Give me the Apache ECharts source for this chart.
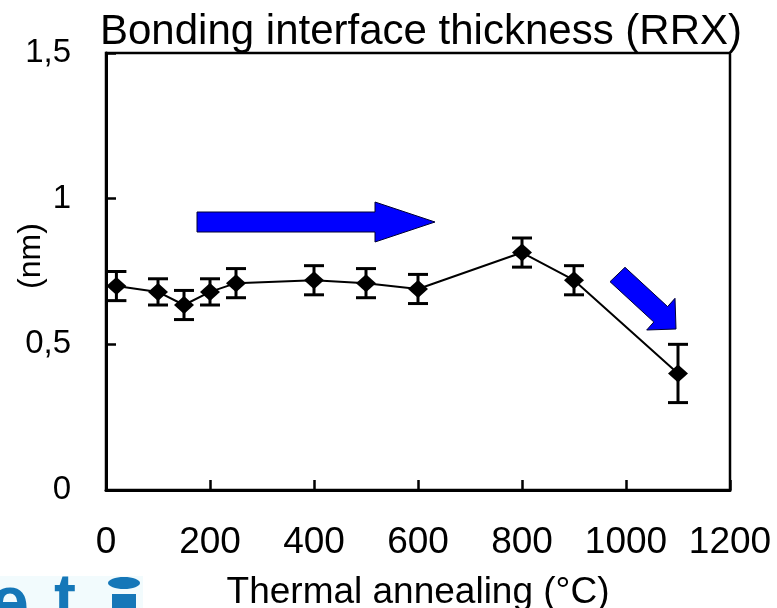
<!DOCTYPE html>
<html>
<head>
<meta charset="utf-8">
<script src="https://cdn.jsdelivr.net/npm/echarts@6/dist/echarts.min.js"></script>
<style>html,body{margin:0;padding:0;background:#fff}#c{width:777px;height:608px}</style>
</head>
<body>
<div id="c"></div>
<script>
const temps = [20, 100, 150, 200, 250, 400, 500, 600, 800, 900, 1100];
const thickness = [0.70, 0.68, 0.635, 0.68, 0.71, 0.72, 0.71, 0.69, 0.815, 0.72, 0.40];
const errors = [0.05, 0.045, 0.05, 0.045, 0.05, 0.05, 0.05, 0.05, 0.05, 0.05, 0.10];
const titleText = 'Bonding interface thickness (RRX)';
const xName = 'Thermal annealing (°C)';
const yName = '(nm)';

const chart = echarts.init(document.getElementById('c'));
const font = 'Liberation Sans, Arial, sans-serif';
const points = temps.map((t, i) => [t, thickness[i]]);
const errData = temps.map((t, i) => [t, thickness[i], errors[i]]);

chart.setOption({
  animation: false,
  backgroundColor: '#fff',
  title: {
    text: titleText, left: 100, top: 11, padding: 0,
    textStyle: { fontFamily: font, fontSize: 42, fontWeight: 'normal', color: '#000' }
  },
  grid: { left: 106, right: 47, top: 53, bottom: 118, outerBoundsMode: 'none', containLabel: false,
    show: true, borderColor: '#000', borderWidth: 2.5, backgroundColor: 'transparent' },
  xAxis: {
    type: 'value', min: 0, max: 1200, interval: 200,
    name: xName, nameLocation: 'middle', nameGap: 84,
    nameTextStyle: { fontFamily: font, fontSize: 37, color: '#000' },
    axisLine: { show: true, lineStyle: { color: '#000', width: 3 } },
    axisTick: { show: true, inside: true, length: 10, lineStyle: { color: '#000', width: 2.5 } },
    axisLabel: { margin: 34, fontFamily: font, fontSize: 37, color: '#000', formatter: v => String(v) },
    splitLine: { show: false }
  },
  yAxis: {
    type: 'value', min: 0, max: 1.5, interval: 0.5,
    axisLine: { show: true, lineStyle: { color: '#000', width: 3 } },
    axisTick: { show: true, inside: true, length: 10, lineStyle: { color: '#000', width: 2.5 } },
    axisLabel: { margin: 35, fontFamily: font, fontSize: 33, color: '#000',
      formatter: v => String(v).replace('.', ',') },
    splitLine: { show: false }
  },
  series: [
    {
      type: 'custom',
      data: errData,
      z: 2,
      renderItem: function (params, api) {
        const x = api.value(0), y = api.value(1), e = api.value(2);
        const top = api.coord([x, y + e]);
        const bot = api.coord([x, y - e]);
        const hw = 10;
        const st = { stroke: '#000', lineWidth: 3 };
        return {
          type: 'group', children: [
            { type: 'line', shape: { x1: top[0], y1: top[1], x2: bot[0], y2: bot[1] }, style: st },
            { type: 'line', shape: { x1: top[0] - hw, y1: top[1], x2: top[0] + hw, y2: top[1] }, style: st },
            { type: 'line', shape: { x1: bot[0] - hw, y1: bot[1], x2: bot[0] + hw, y2: bot[1] }, style: st }
          ]
        };
      }
    },
    {
      type: 'line',
      data: points,
      z: 3,
      symbol: 'diamond',
      symbolSize: [20, 18],
      itemStyle: { color: '#000' },
      lineStyle: { color: '#000', width: 2 }
    }
  ],
  graphic: [
    {
      type: 'text', x: 31, y: 256, rotation: Math.PI / 2,
      style: { text: yName, font: '32px ' + font, fill: '#000', align: 'center', verticalAlign: 'middle' }
    },
    {
      type: 'polygon',
      shape: { points: [[197, 212], [375, 212], [375, 202], [435, 222], [375, 242], [375, 232], [197, 232]] },
      style: { fill: '#0000ff', stroke: '#000033', lineWidth: 1 }
    },
    {
      type: 'polygon',
      shape: { points: [[610, 281.7], [625, 267.3], [667.6, 306.6], [675, 298.3], [676, 329], [646.7, 330], [653.8, 322]] },
      style: { fill: '#0000ff', stroke: '#000033', lineWidth: 1 }
    },
    { type: 'rect', shape: { x: 0, y: 576, width: 143, height: 32 }, style: { fill: '#f2fbfd' } },
    { type: 'text', x: -10, y: 606, style: { text: 'e', font: 'bold 70px ' + font, fill: '#1577b8', verticalAlign: 'middle' } },
    { type: 'text', x: 54, y: 602, style: { text: 't', font: 'bold 66px ' + font, fill: '#1577b8', verticalAlign: 'middle' } },
    { type: 'ellipse', shape: { cx: 124, cy: 583, rx: 16, ry: 6 }, style: { fill: '#1577b8' } },
    { type: 'rect', shape: { x: 112, y: 594, width: 24, height: 14 }, style: { fill: '#1577b8' } }
  ]
});
</script>
</body>
</html>
